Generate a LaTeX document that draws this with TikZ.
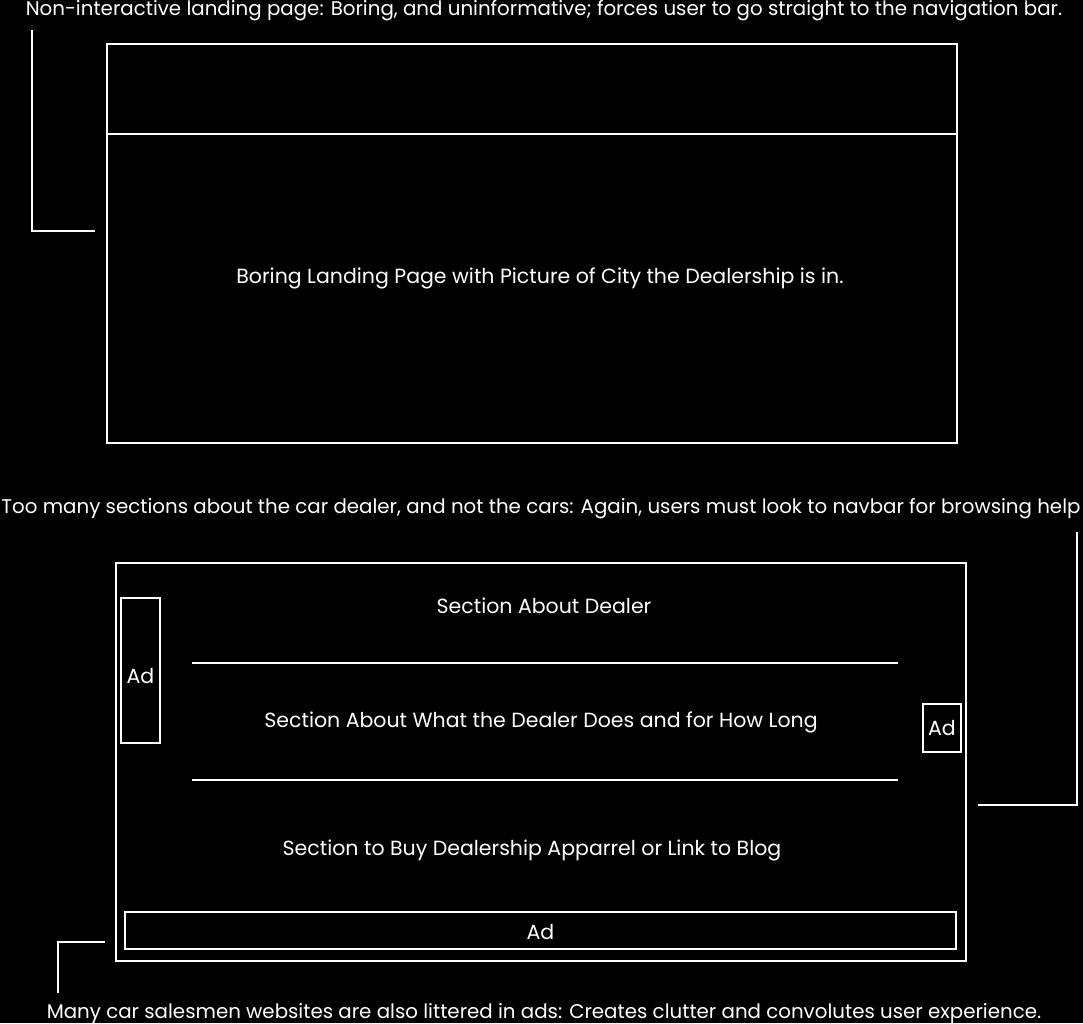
\documentclass[tikz,border=0pt]{standalone}
\usepackage{fontspec}
\setmainfont{Poppins}
\begin{document}
\begin{tikzpicture}[x=1pt,y=-1pt,
  wl/.style={draw=white,line width=2pt},
  lbl/.style={text=white,inner sep=0pt,font=\fontsize{19.8}{22}\selectfont},
  body/.style={text=white,inner sep=0pt,font=\fontsize{20.5}{22}\selectfont},
  frame/.style={wl,fill=none,inner sep=0pt}]
\fill[black] (0,0) rectangle (1083,1023);
\useasboundingbox (0,0) rectangle (1083,1023);
% top
\node[lbl,anchor=base] (t1) at (544,15) {Non-interactive landing page: Boring, and uninformative; forces user to go straight to the navigation bar.};
\draw[wl] (107,44) rectangle (957,443);
\coordinate (b1l) at (107,134);
\coordinate (b1r) at (957,134);
\draw[wl] (b1l) -- (b1r);
\node[body] (land) at (540,278) {Boring Landing Page with Picture of City the Dealership is in.};
\coordinate (c1a) at (32,30);
\coordinate (c1b) at (95,231);
\draw[wl] (c1a) |- (c1b);
% middle
\node[lbl,anchor=base] (t2) at (541,513) {Too many sections about the car dealer, and not the cars: Again, users must look to navbar for browsing help};
\draw[wl] (116,563) rectangle (966,961);
\node[frame,minimum width=39pt,minimum height=145pt] (adl) at (140.5,670.5) {};
\node[body] at ([yshift=-5pt]adl.center) {Ad};
\node[frame,minimum width=38pt,minimum height=48pt] (adr) at (942,728) {};
\node[body] at (adr.center) {Ad};
\node[frame,minimum width=831pt,minimum height=37pt] (adb) at (540.5,930.5) {};
\node[body] at ([yshift=-1pt]adb.center) {Ad};
\node[body] (s1) at (544,606) {Section About Dealer};
\coordinate (l1a) at (192,663);
\coordinate (l1b) at (898,663);
\draw[wl] (l1a) -- (l1b);
\node[body] (s2) at (541,722) {Section About What the Dealer Does and for How Long};
\coordinate (l2a) at (192,780);
\coordinate (l2b) at (898,780);
\draw[wl] (l2a) -- (l2b);
\node[body] (s3) at (532,850) {Section to Buy Dealership Apparrel or Link to Blog};
\coordinate (c2a) at (1077,532);
\coordinate (c2b) at (978,805);
\draw[wl] (c2a) |- (c2b);
% bottom
\coordinate (c3a) at (58,993);
\coordinate (c3b) at (105,942);
\draw[wl] (c3a) |- (c3b);
\node[lbl,anchor=base] (t3) at (544,1018) {Many car salesmen websites are also littered in ads: Creates clutter and convolutes user experience.};
\end{tikzpicture}
\end{document}
